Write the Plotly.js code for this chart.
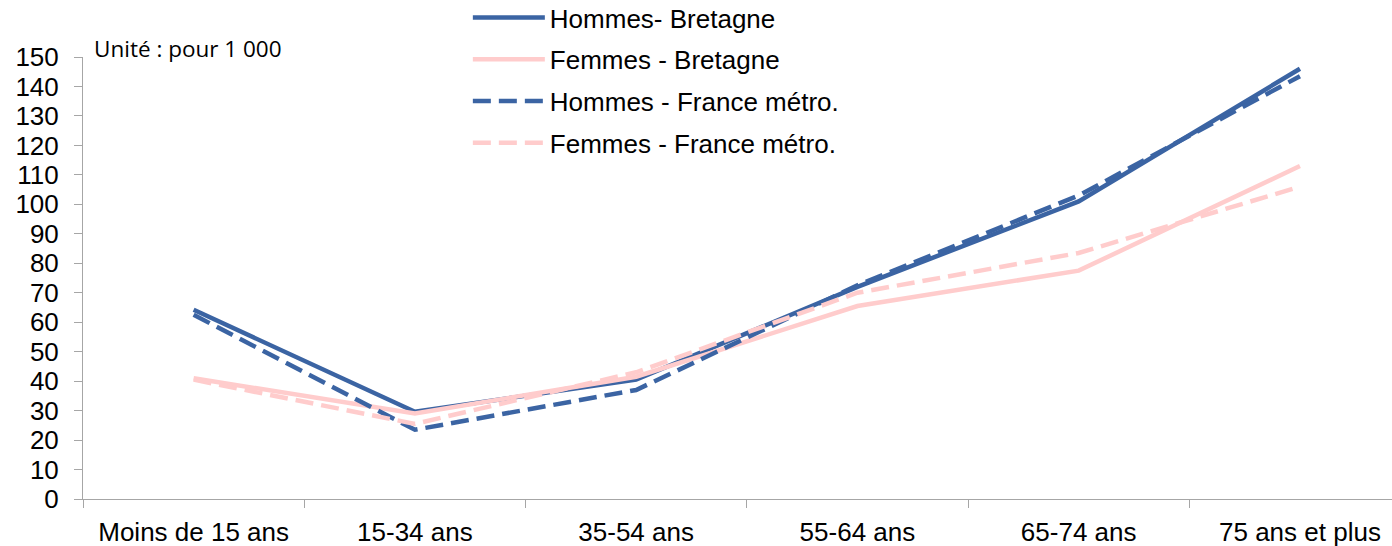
<!DOCTYPE html>
<html>
<head>
<meta charset="utf-8">
<script src="https://cdn.plot.ly/plotly-3.0.1.min.js"></script>
<style>
  html, body { margin: 0; padding: 0; background: #fff; }
  #chart { width: 1392px; height: 546px; }
</style>
</head>
<body>
<div id="chart"></div>
<script>
// Age groups on the horizontal axis
const ageGroups = ['Moins de 15 ans', '15-34 ans', '35-54 ans', '55-64 ans', '65-74 ans', '75 ans et plus'];

// Rates per 1 000 inhabitants
const hommesBretagne = [64.2, 29.6, 40.5, 72, 101, 146];
const femmesBretagne = [41, 29, 41.5, 65.5, 77.5, 113];
const hommesFrance = [62.5, 23.5, 37, 72.5, 103, 143.5];
const femmesFrance = [40.5, 25.5, 43, 70, 83.5, 106];

// Series names and y-axis ticks
const seriesNames = ['Hommes- Bretagne', 'Femmes - Bretagne', 'Hommes - France métro.', 'Femmes - France métro.'];
const yTicks = [0, 10, 20, 30, 40, 50, 60, 70, 80, 90, 100, 110, 120, 130, 140, 150];

const BLUE = '#3B64A3';
const PINK = '#FFCCCC';
const FONT = 'Liberation Sans, Arial, sans-serif';

function line(name, values, color, dash, group) {
  return {
    type: 'scatter',
    mode: 'lines',
    name: name,
    x: ageGroups,
    y: values,
    legendgroup: group,
    line: { color: color, width: 4.5, dash: dash },
    hoverinfo: 'x+y+name'
  };
}

const traces = [
  line(seriesNames[0], hommesBretagne, BLUE, 'solid', 'a'),
  line(seriesNames[1], femmesBretagne, PINK, 'solid', 'b'),
  line(seriesNames[2], hommesFrance, BLUE, '18px,8px', 'c'),
  line(seriesNames[3], femmesFrance, PINK, '18px,8px', 'd')
];

const layout = {
  width: 1392,
  height: 546,
  margin: { l: 83, r: 0, t: 57, b: 47, pad: 0, autoexpand: false },
  paper_bgcolor: '#ffffff',
  plot_bgcolor: '#ffffff',
  font: { family: FONT, size: 26, color: '#000000' },
  showlegend: true,
  legend: {
    x: 0.294, y: 1.1425, xanchor: 'left', yanchor: 'top',
    bgcolor: 'rgba(0,0,0,0)',
    font: { family: FONT, size: 26, color: '#000000' },
    traceorder: 'grouped',
    tracegroupgap: 5,
    itemwidth: 72
  },
  xaxis: {
    type: 'category',
    range: [-0.5, 5.416],
    showgrid: false,
    zeroline: false,
    showline: true,
    linecolor: '#A6A6A6',
    linewidth: 1,
    ticks: 'outside',
    tickson: 'boundaries',
    ticklen: 8,
    tickcolor: '#A6A6A6',
    ticklabelstandoff: 10,
    tickfont: { family: FONT, size: 26, color: '#000000' },
    fixedrange: true
  },
  yaxis: {
    range: [0, 150],
    tickvals: yTicks,
    showgrid: false,
    zeroline: false,
    showline: true,
    linecolor: '#A6A6A6',
    linewidth: 1,
    ticks: 'outside',
    ticklen: 8,
    tickcolor: '#A6A6A6',
    ticklabelstandoff: 10,
    tickfont: { family: FONT, size: 26, color: '#000000' },
    fixedrange: true
  },
  annotations: [{
    xref: 'paper', yref: 'paper',
    x: 0.007, y: 1.02, xanchor: 'left', yanchor: 'middle',
    text: 'Unité : pour 1 000',
    showarrow: false,
    font: { family: 'Open Sans, sans-serif', size: 22.5, color: '#000000' }
  }]
};

Plotly.newPlot('chart', traces, layout, { displayModeBar: false, staticPlot: true });
</script>
</body>
</html>
